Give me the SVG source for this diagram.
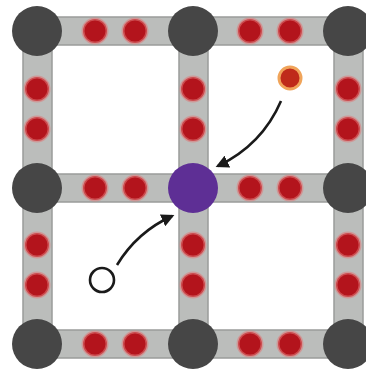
<svg xmlns="http://www.w3.org/2000/svg" width="366" height="374" viewBox="0 0 366 374">
<defs>
<style>
.bar{fill:#bbbdbb;stroke:#9a9c9a;stroke-width:1.5}
.site{fill:#464646}
.vac{fill:#5e2f95}
.red{fill:#b3141c;stroke:#e07878;stroke-width:3;stroke-opacity:0.55}
.hot{fill:#bf2a1a;stroke:#f0a45a;stroke-width:3}
.open{fill:#ffffff;stroke:#1a1a1a;stroke-width:2.6}
.arrow{fill:none;stroke:#1a1a1a;stroke-width:2.6;marker-end:url(#ah)}
</style>
<marker id="ah" viewBox="0 0 10 10" refX="8" refY="5" markerWidth="5" markerHeight="5" orient="auto" markerUnits="strokeWidth">
<path d="M0,0 L10,5 L0,10 z" fill="#1a1a1a"/>
</marker>
</defs>
<rect width="366" height="374" fill="#ffffff"/>
<g id="lattice">
<rect class="bar" x="37" y="17" width="311" height="28"/>
<rect class="bar" x="37" y="174" width="311" height="28"/>
<rect class="bar" x="37" y="330" width="311" height="28"/>
<rect class="bar" x="23" y="31" width="29" height="313"/>
<rect class="bar" x="179" y="31" width="29" height="313"/>
<rect class="bar" x="334" y="31" width="29" height="313"/>
</g>
<g id="dots">
<circle class="red" cx="95" cy="31" r="12"/><circle class="red" cx="135" cy="31" r="12"/>
<circle class="red" cx="250" cy="31" r="12"/><circle class="red" cx="290" cy="31" r="12"/>
<circle class="red" cx="95" cy="188" r="12"/><circle class="red" cx="135" cy="188" r="12"/>
<circle class="red" cx="250" cy="188" r="12"/><circle class="red" cx="290" cy="188" r="12"/>
<circle class="red" cx="95" cy="344" r="12"/><circle class="red" cx="135" cy="344" r="12"/>
<circle class="red" cx="250" cy="344" r="12"/><circle class="red" cx="290" cy="344" r="12"/>
<circle class="red" cx="37" cy="89" r="12"/><circle class="red" cx="37" cy="129" r="12"/>
<circle class="red" cx="193" cy="89" r="12"/><circle class="red" cx="193" cy="129" r="12"/>
<circle class="red" cx="348" cy="89" r="12"/><circle class="red" cx="348" cy="129" r="12"/>
<circle class="red" cx="37" cy="245" r="12"/><circle class="red" cx="37" cy="285" r="12"/>
<circle class="red" cx="193" cy="245" r="12"/><circle class="red" cx="193" cy="285" r="12"/>
<circle class="red" cx="348" cy="245" r="12"/><circle class="red" cx="348" cy="285" r="12"/>
</g>
<g id="n00"><circle class="site" cx="37" cy="31" r="25"/></g>
<g id="n01"><circle class="site" cx="193" cy="31" r="25"/></g>
<g id="n02"><circle class="site" cx="348" cy="31" r="25"/></g>
<g id="n10"><circle class="site" cx="37" cy="188" r="25"/></g>
<g id="n11"><circle class="vac" cx="193" cy="188" r="25"/></g>
<g id="n12"><circle class="site" cx="348" cy="188" r="25"/></g>
<g id="n20"><circle class="site" cx="37" cy="344" r="25"/></g>
<g id="n21"><circle class="site" cx="193" cy="344" r="25"/></g>
<g id="n22"><circle class="site" cx="348" cy="344" r="25"/></g>
<g id="hot"><circle class="hot" cx="290" cy="78" r="11"/></g>
<g id="open"><circle class="open" cx="102" cy="280" r="12"/></g>
<g id="connectors">
<path class="arrow" d="M281,101 Q262,145 218,166"/>
<path class="arrow" d="M117,265 Q137,232 172,216"/>
</g>
</svg>
